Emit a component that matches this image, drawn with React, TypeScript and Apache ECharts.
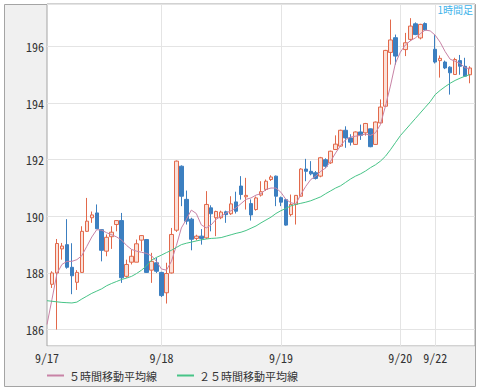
import { useEffect, useRef } from 'react';
import * as echarts from 'echarts';

// hourly slots (index 0 = left edge of the plot, 9/17)
const slotCount = 87;
const categories: string[] = Array.from({ length: slotCount }, (_, i) => `slot${i}`);

// day tick labels and the slot they sit on
const dayLabels = ['9/17', '9/18', '9/19', '9/20', '9/22'];
const daySlots = [0, 23, 47, 71, 78];

// candles: [open, close, low, high]; '-' = no candle
const candles: any[] = [
  '-',
  [187.6, 188.0, 187.47, 188.06],
  [188.0, 189.04, 186.0, 189.2],
  [188.85, 188.95, 188.47, 189.06],
  [189.0, 188.2, 188.15, 189.9],
  [188.2, 187.9, 187.25, 189.05],
  [187.67, 188.02, 187.4, 188.1],
  [188.02, 189.47, 188.0, 189.65],
  [189.47, 189.83, 189.45, 190.65],
  [189.95, 190.05, 189.77, 190.17],
  [190.12, 189.56, 189.55, 190.42],
  [189.53, 188.8, 188.41, 189.55],
  [188.77, 189.26, 188.59, 189.36],
  [189.28, 189.44, 188.85, 189.65],
  [189.71, 189.85, 189.47, 189.87],
  [189.85, 187.83, 187.65, 190.12],
  [187.88, 188.3, 187.83, 188.47],
  [188.38, 188.59, 188.3, 188.83],
  [188.38, 189.03, 188.38, 189.18],
  [189.16, 189.32, 188.77, 189.34],
  [189.18, 188.02, 188.0, 189.2],
  [188.1, 188.41, 187.65, 188.71],
  [188.36, 188.06, 188.0, 188.54],
  [188.02, 187.2, 187.15, 188.04],
  [187.3, 187.98, 186.92, 188.36],
  [188.0, 189.36, 187.98, 189.59],
  [189.51, 191.95, 189.45, 191.97],
  [191.77, 190.71, 190.36, 191.8],
  [190.6, 189.83, 189.71, 190.91],
  [189.9, 189.19, 188.8, 189.95],
  [189.22, 189.3, 189.15, 189.35],
  [189.3, 189.22, 189.0, 189.55],
  [189.24, 190.42, 189.2, 190.89],
  [190.3, 190.09, 189.47, 190.39],
  [189.95, 190.17, 189.3, 190.2],
  [189.95, 190.15, 189.9, 190.2],
  [190.16, 190.06, 189.77, 190.2],
  [190.09, 190.44, 190.05, 190.71],
  [190.51, 190.18, 190.1, 190.87],
  [191.07, 190.77, 190.59, 191.42],
  [190.69, 190.74, 190.24, 191.36],
  [190.45, 190.05, 189.85, 190.6],
  [190.24, 190.65, 190.2, 190.7],
  [190.75, 190.87, 190.7, 191.24],
  [190.95, 191.24, 190.9, 191.3],
  [191.3, 191.39, 191.25, 191.45],
  [191.42, 190.71, 190.36, 191.44],
  [190.66, 190.5, 190.36, 190.7],
  [190.59, 189.69, 189.67, 190.6],
  [190.06, 190.42, 190.0, 190.77],
  [190.42, 190.74, 189.71, 190.75],
  [190.71, 191.67, 190.7, 191.7],
  [191.67, 191.59, 191.24, 192.03],
  [191.59, 191.5, 191.45, 191.95],
  [191.54, 191.34, 191.3, 191.6],
  [191.42, 192.07, 191.38, 192.1],
  [192.0, 191.77, 191.7, 192.05],
  [191.89, 192.3, 191.85, 192.32],
  [192.36, 192.55, 192.35, 192.86],
  [192.48, 193.04, 192.45, 193.06],
  [193.04, 192.77, 192.42, 193.18],
  [192.77, 192.62, 192.5, 192.9],
  [192.54, 192.98, 192.52, 193.0],
  [192.98, 192.86, 192.7, 193.24],
  [192.95, 193.28, 192.85, 193.3],
  [193.09, 192.46, 192.44, 193.1],
  [192.54, 193.33, 192.52, 193.35],
  [193.3, 193.86, 193.28, 194.13],
  [193.89, 195.86, 193.87, 195.88],
  [195.79, 196.23, 195.36, 196.95],
  [196.31, 195.66, 195.36, 196.42],
  '-',
  [195.89, 196.13, 195.66, 196.48],
  [196.25, 196.72, 196.19, 197.0],
  [196.8, 196.42, 196.4, 196.85],
  [196.3, 196.78, 196.25, 196.8],
  [196.81, 196.58, 196.55, 196.85],
  '-',
  [195.9, 195.45, 195.4, 196.4],
  [195.5, 195.58, 194.9, 195.68],
  [195.45, 195.24, 195.2, 195.5],
  [195.27, 195.07, 194.3, 195.3],
  [195.01, 195.54, 195.0, 195.6],
  [195.5, 195.3, 195.0, 195.7],
  [195.3, 194.95, 194.93, 195.6],
  [195.0, 195.24, 194.7, 195.3],
  '-',
];

const ma5: any[] = [
  186.18, 187.07, 187.98, 188.3, 188.41, 188.41, 188.47, 188.61, 188.94, 189.27,
  189.53, 189.51, 189.42, 189.35, 189.27, 189.16, 188.97, 188.83, 188.77, 188.73,
  188.69, 188.61, 188.41, 188.14, 188.1, 188.41, 188.97, 189.59, 189.89, 190.22,
  190.1, 189.7, 189.59, 189.7, 189.9, 190.0, 190.12, 190.2, 190.3, 190.45,
  190.6, 190.65, 190.75, 190.8, 190.95, 191.0, 191.0, 190.85, 190.6, 190.48,
  190.44, 190.77, 191.06, 191.3, 191.42, 191.59, 191.71, 191.95, 192.24, 192.5,
  192.71, 192.8, 192.83, 192.86, 192.91, 192.86, 192.95, 193.24, 193.89, 194.6,
  195.4, 195.8, 196.05, 196.2, 196.3, 196.45, 196.58, 196.55, 196.4, 196.15,
  195.82, 195.55, 195.48, 195.4, 195.25, 195.21, '-',
];

const ma25: any[] = [
  187.02, 187.0, 186.98, 186.96, 186.95, 186.94, 186.97, 187.08, 187.18, 187.28,
  187.36, 187.44, 187.55, 187.63, 187.7, 187.77, 187.82, 187.88, 187.98, 188.1,
  188.25, 188.45, 188.55, 188.63, 188.72, 188.8, 188.9, 189.0, 189.05, 189.09,
  189.13, 189.17, 189.2, 189.22, 189.23, 189.25, 189.3, 189.35, 189.4, 189.44,
  189.5, 189.58, 189.66, 189.77, 189.87, 189.97, 190.1, 190.2, 190.28, 190.37,
  190.42, 190.46, 190.5, 190.55, 190.62, 190.69, 190.8, 190.9, 191.0, 191.08,
  191.2, 191.32, 191.42, 191.5, 191.6, 191.72, 191.82, 191.95, 192.12, 192.35,
  192.6, 192.85, 193.05, 193.25, 193.45, 193.65, 193.85, 194.05, 194.3, 194.45,
  194.58, 194.7, 194.8, 194.88, 194.95, 195.01, '-',
];

const seriesNames = ['５時間移動平均線', '２５時間移動平均線'];
const titleText = '1時間足';

const monoFont = '"Noto Sans Mono CJK JP", "DejaVu Sans Mono", monospace';
const cjkFont = '"Noto Sans CJK JP", sans-serif';

export default function App() {
  const ref = useRef<HTMLDivElement>(null);
  useEffect(() => {
    if (!ref.current) return;
    const chart = echarts.init(ref.current, undefined, { renderer: 'svg' });
    chart.setOption({
      animation: false,
      graphic: [
        {
          type: 'rect',
          z: -10,
          shape: { x: 4.5, y: 4.5, width: 471, height: 382 },
          style: { fill: '#f0f0f0', stroke: '#a4a4a4', lineWidth: 1 },
          silent: true,
        },
        {
          type: 'text',
          right: 5,
          top: 4,
          z: 10,
          style: { text: titleText, fill: '#42b3ea', font: `10px ${cjkFont}` },
        },
      ],
      grid: {
        left: 47,
        right: 3,
        top: 4,
        bottom: 45,
        show: true,
        backgroundColor: '#ffffff',
        borderColor: '#a4a4a4',
        borderWidth: 1,
      },
      legend: {
        left: 47,
        top: 370,
        padding: 0,
        itemGap: 20,
        itemWidth: 17,
        itemHeight: 2,
        icon: 'rect',
        textStyle: { fontSize: 11, color: '#333', fontFamily: cjkFont },
        data: seriesNames,
      },
      xAxis: {
        type: 'category',
        data: categories,
        boundaryGap: false,
        axisLine: { show: false },
        axisTick: { show: false },
        axisLabel: {
          interval: (i: number) => daySlots.includes(i),
          formatter: (_v: string, i: number) => dayLabels[daySlots.indexOf(i)] ?? '',
          margin: 5,
          color: '#333',
          fontSize: 12,
          fontFamily: monoFont,
        },
        splitLine: {
          show: true,
          interval: (i: number) => daySlots.includes(i) && i > 0,
          lineStyle: { color: '#e4e4e4', width: 1 },
        },
      },
      yAxis: {
        type: 'value',
        min: 185.42,
        max: 197.5,
        minInterval: 2,
        maxInterval: 2,
        axisLine: { show: false },
        axisTick: { show: false },
        axisLabel: {
          showMinLabel: false,
          showMaxLabel: false,
          margin: 3,
          color: '#333',
          fontSize: 12,
          fontFamily: monoFont,
        },
        splitLine: { lineStyle: { color: '#e4e4e4', width: 1 } },
      },
      series: [
        {
          type: 'candlestick',
          name: 'price',
          data: candles,
          barWidth: 4,
          itemStyle: {
            color: '#fbe1d9',
            color0: '#3c7fc0',
            borderColor: '#e2694b',
            borderColor0: '#3c7fc0',
            borderWidth: 1,
          },
        },
        {
          type: 'line',
          name: seriesNames[0],
          data: ma5,
          symbol: 'none',
          color: '#c883a6',
          lineStyle: { width: 1, color: '#c883a6' },
        },
        {
          type: 'line',
          name: seriesNames[1],
          data: ma25,
          symbol: 'none',
          color: '#47c487',
          lineStyle: { width: 1, color: '#47c487' },
        },
      ],
    });
    return () => chart.dispose();
  }, []);
  return (
    <div
      ref={ref}
      style={{ position: 'fixed', left: 0, top: 0, width: 478, height: 391, background: '#ffffff' }}
    />
  );
}
